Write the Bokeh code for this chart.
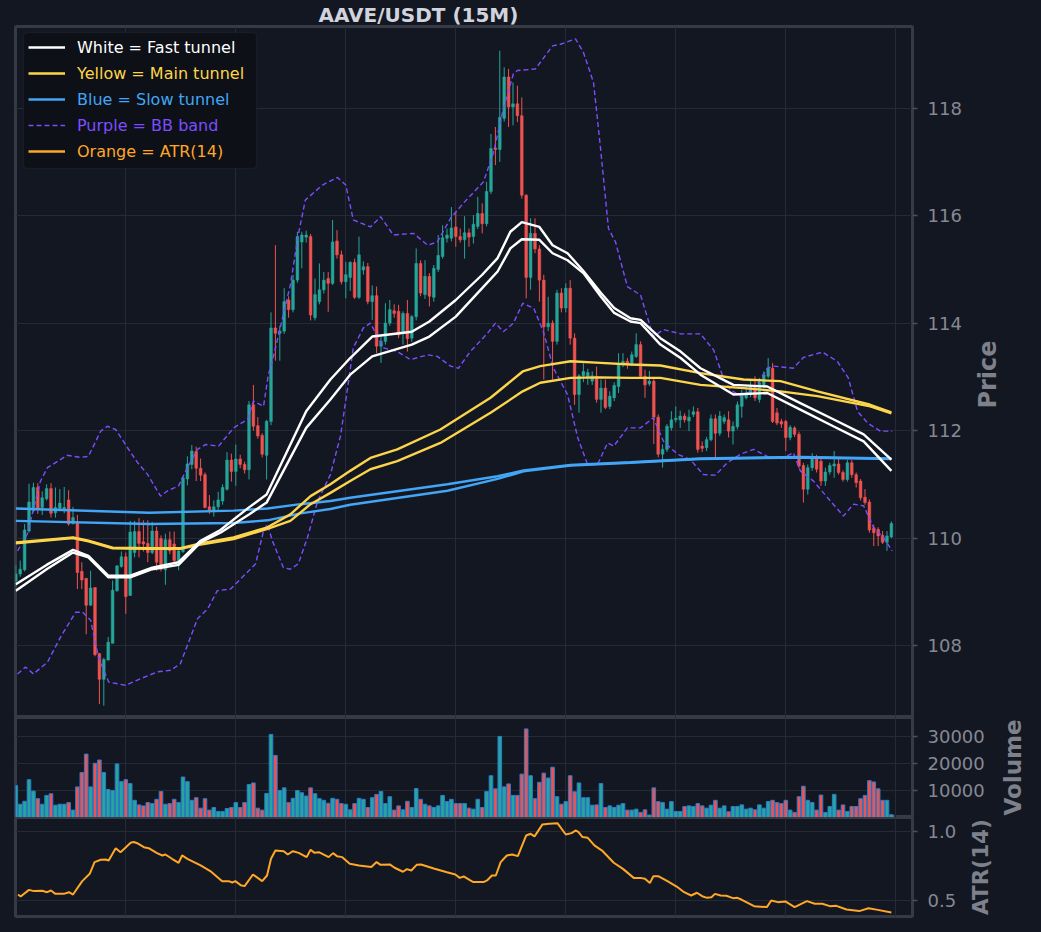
import math
from bokeh.plotting import figure
from bokeh.layouts import column, row
from bokeh.models import (Range1d, FixedTicker, Grid, Label, Legend, LegendItem,
                          ColumnDataSource, BoxAnnotation)
from bokeh.embed import file_html
from bokeh.resources import INLINE

# ---------------- data ----------------
opens = [109.20,109.33,109.41,110.13,110.51,110.94,110.57,110.73,110.92,110.47,
         110.55,110.51,110.71,110.27,110.30,109.38,109.25,108.75,109.08,107.85,
         107.37,107.73,108.04,109.02,109.47,109.65,108.93,109.73,110.12,109.93,
         109.90,109.73,110.13,109.99,109.41,109.97,109.89,109.53,109.75,111.10,
         111.37,111.61,111.30,111.18,110.58,110.50,110.58,110.69,110.91,111.45,
         111.24,111.47,111.37,111.27,112.48,112.09,111.91,111.54,112.17,113.91,
         113.81,113.85,114.43,114.25,114.80,115.51,115.60,115.61,114.10,114.40,
         114.62,114.83,114.74,115.53,115.27,114.77,114.85,115.13,114.48,114.99,
         115.05,114.40,114.51,113.57,113.66,114.00,114.23,114.22,113.84,114.18,
         113.72,114.12,115.11,114.53,114.87,114.48,115.00,115.24,115.58,115.58,
         115.79,115.61,115.55,115.68,115.61,115.80,116.04,115.85,116.45,117.26,
         117.23,117.81,118.58,118.02,118.08,117.86,116.38,114.85,115.67,115.38,
         114.80,113.93,114.00,113.66,114.56,114.28,114.65,113.72,112.67,113.02,
         113.00,112.92,113.01,112.58,112.79,112.45,112.61,112.82,113.23,113.29,
         113.23,113.38,113.60,113.01,112.87,112.92,112.25,111.56,111.65,112.05,
         112.20,112.20,112.27,112.18,112.30,112.35,111.71,111.68,111.83,112.22,
         111.95,112.17,112.20,111.99,112.07,112.45,112.61,112.67,112.82,112.58,
         112.85,113.01,113.16,112.33,112.17,112.17,111.87,112.05,111.93,111.35,
         110.91,111.31,111.49,111.43,111.06,111.23,111.34,111.38,111.22,111.09,
         111.40,111.18,111.06,110.76,110.67,110.19,110.16,110.05,109.92,110.02]
highs = [109.50,109.58,110.26,111.01,111.03,111.02,110.87,111.00,111.02,110.94,
         110.91,110.95,110.89,110.58,110.43,109.55,109.25,109.39,109.08,107.85,
         107.77,108.16,109.21,109.50,109.75,109.73,110.32,110.32,110.37,110.33,
         110.33,110.30,110.21,110.05,110.08,110.12,110.12,109.80,111.15,111.52,
         111.73,111.70,111.48,111.22,110.80,110.70,110.86,111.00,111.60,111.57,
         111.74,111.55,111.42,112.55,112.85,112.25,111.95,112.20,114.20,115.45,
         113.95,114.65,114.50,114.90,115.70,115.70,115.72,115.66,114.83,115.11,
         114.95,114.95,115.92,115.73,115.35,115.14,115.15,115.20,115.61,115.15,
         115.12,114.70,114.68,113.75,114.37,114.43,114.35,114.34,114.22,114.43,
         114.15,115.39,115.17,115.17,114.93,115.08,115.64,115.82,115.76,116.16,
         116.07,115.76,115.99,115.76,116.01,116.35,116.23,116.63,117.52,117.65,
         119.07,118.76,118.73,118.48,118.42,118.20,116.40,115.95,115.95,115.45,
         114.90,114.49,114.05,114.62,114.65,114.74,114.80,113.81,113.05,113.25,
         113.15,113.10,113.19,112.95,112.95,112.73,112.90,113.44,113.44,113.35,
         113.47,113.81,113.66,113.13,113.11,113.00,112.30,111.74,112.12,112.36,
         112.45,112.37,112.32,112.39,112.45,112.42,111.80,111.88,112.30,112.30,
         112.36,112.30,112.36,112.17,112.54,112.76,112.82,112.92,113.01,112.98,
         113.10,113.35,113.26,112.42,112.22,112.20,112.10,112.08,111.98,111.40,
         111.37,111.58,111.55,111.48,111.31,111.40,111.62,111.49,111.26,111.45,
         111.45,111.22,111.10,110.91,110.72,110.25,110.20,110.13,110.13,110.31]
lows = [109.10,109.28,109.38,110.10,110.48,110.45,110.43,110.70,110.38,110.38,
        110.50,110.46,110.23,110.25,109.05,109.05,108.21,108.74,107.80,106.91,
        106.88,107.72,108.04,109.00,109.45,108.59,108.93,109.64,109.64,109.75,
        109.55,109.70,109.39,109.38,109.13,109.70,109.55,109.40,109.72,110.98,
        111.28,111.06,111.06,110.55,110.45,110.40,110.52,110.62,110.88,111.05,
        110.97,111.30,111.20,111.09,112.00,111.85,111.50,111.09,112.10,113.30,
        113.30,113.80,114.10,114.20,114.75,115.02,115.50,114.05,114.05,114.35,
        114.55,114.21,114.71,115.20,114.72,114.46,114.60,114.45,114.45,114.90,
        114.35,114.06,113.44,113.26,113.60,113.95,114.10,113.72,113.60,113.47,
        113.65,114.05,114.50,114.45,114.31,114.40,114.95,115.20,115.50,115.52,
        115.42,115.50,115.20,115.42,115.48,115.75,115.67,115.80,116.40,116.94,
        117.00,117.75,117.65,117.68,117.74,116.32,114.46,114.62,115.30,114.40,
        112.95,113.85,112.95,113.60,114.20,114.20,113.60,112.48,112.33,112.90,
        112.85,112.85,112.52,112.33,112.40,112.40,112.55,112.70,113.18,113.15,
        113.20,113.35,112.98,112.61,112.83,111.75,111.50,111.31,111.60,112.00,
        112.15,112.05,112.15,111.99,112.25,111.59,111.60,111.62,111.80,111.49,
        111.90,112.12,111.87,111.74,112.02,112.24,112.58,112.62,112.55,112.52,
        112.80,112.97,112.14,112.10,112.05,111.62,111.82,111.88,111.30,110.66,
        110.81,111.25,111.22,110.97,110.97,111.18,111.12,111.18,111.05,111.05,
        111.12,110.94,110.70,110.62,110.10,109.85,109.85,109.89,109.76,110.00]
closes = [109.33,109.42,110.15,110.67,110.94,110.55,110.75,110.92,110.46,110.57,
          110.65,110.57,110.26,110.38,109.36,109.22,108.75,109.07,107.83,107.37,
          107.74,108.06,109.03,109.48,109.65,108.91,110.11,110.12,109.90,109.89,
          109.73,110.13,109.55,109.42,109.97,109.76,109.58,109.76,111.12,111.38,
          111.62,111.30,111.17,110.57,110.50,110.58,110.71,110.94,111.45,111.24,
          111.47,111.37,111.27,112.48,112.08,111.90,111.56,112.17,113.91,113.81,
          113.85,114.40,114.25,114.80,115.61,115.64,115.64,114.15,114.53,114.62,
          114.80,114.74,115.51,115.27,114.77,114.90,115.13,114.48,115.27,115.05,
          114.40,114.51,113.57,113.66,114.00,114.25,114.18,113.78,114.18,113.71,
          114.12,115.11,114.56,114.87,114.50,115.02,115.26,115.59,115.64,115.77,
          115.61,115.55,115.68,115.60,115.84,116.04,115.85,116.45,117.25,117.23,
          117.83,118.58,118.02,118.08,117.86,116.38,114.85,115.67,115.38,114.80,
          113.93,114.00,113.66,114.56,114.28,114.65,113.72,112.67,113.02,113.10,
          113.08,113.02,112.58,112.79,112.43,112.64,112.84,113.23,113.29,113.23,
          113.41,113.60,113.01,112.85,112.92,112.25,111.56,111.65,112.08,112.20,
          112.23,112.27,112.20,112.25,112.35,111.65,111.67,111.83,112.22,111.95,
          112.27,112.24,111.99,112.08,112.48,112.64,112.70,112.82,112.61,112.89,
          113.04,113.16,112.17,112.14,112.12,111.87,112.06,111.93,111.34,110.91,
          111.31,111.49,111.28,111.06,111.23,111.35,111.38,111.22,111.09,111.40,
          111.18,111.03,110.75,110.66,110.15,110.10,110.04,109.92,110.04,110.27]
volumes = [11800,4900,6000,14000,9760,6970,4900,8180,8790,4550,
           4900,4900,5520,2730,11330,16670,23450,11330,20060,21270,
           16670,10360,10000,19820,13270,14000,12550,6360,4670,4300,
           5520,5150,6730,9640,4900,5150,6730,5520,14970,13270,
           6360,7330,3450,6970,2730,3700,2240,2240,3330,3700,
           5520,3700,5520,12180,12790,3450,2730,8910,30730,22970,
           10000,10970,5520,7090,10000,9150,7940,10970,8790,6970,
           6360,5270,7090,6730,5150,4900,2850,5150,7090,6730,
           3700,7330,8550,9640,5150,7700,2730,4300,2850,6000,
           3700,10730,6730,4900,4300,3700,4300,8180,5880,6730,
           5150,5150,5150,3450,3090,6730,3700,9640,15450,10610,
           30000,11330,12420,8180,8180,16060,32790,15450,6970,13030,
           16420,14610,18610,7700,4910,5880,15450,9520,12790,7330,
           7330,4550,4670,12550,3700,4300,3700,4550,5150,2730,
           2730,3090,1880,2850,910,10970,5880,5520,3090,5880,
           2240,2240,4060,4300,4060,5150,4300,3450,4550,6360,
           3450,4300,2120,4060,4060,4670,3090,3450,2850,4670,
           3450,5880,6360,5520,5150,6360,2730,1880,7700,11580,
           6360,5520,2730,8300,1880,4060,8550,2730,4670,2240,
           4060,4060,6970,8180,13640,13150,10610,6360,6360,1030]

# tunnel lines: (bar index, price) read at the visible vertices
fast_up_idx = [0,7,13,16.5,21,26,31,37,42,46.5,53,57,66,71.5,76,81,90,94,100,106,109.5,112.4,115,119,122,125.4,129,133,136,139.7,142,146.5,151.1,155.6,163.1,170.8,178.3,185.8,192.7,199]
fast_up_val = [109.14,109.50,109.78,109.67,109.30,109.30,109.45,109.55,109.95,110.15,110.57,110.81,112.36,112.95,113.35,113.75,113.84,114.03,114.43,114.90,115.21,115.70,115.88,115.79,115.45,115.30,114.97,114.56,114.28,114.09,114.06,113.72,113.47,113.16,112.85,112.82,112.51,112.21,111.93,111.46]
fast_lo_idx = [0,7,13,16.5,21,26,31,37,42,46.5,53,57,66,71.5,76,81,90,94,100,106,109.5,112.4,115,119,122,125.4,129,133,136,139.7,142,146.5,151.1,155.6,163.1,170.8,178.3,185.8,192.7,199]
fast_lo_val = [109.02,109.42,109.73,109.64,109.27,109.27,109.42,109.50,109.92,110.10,110.44,110.66,112.05,112.58,113.04,113.38,113.60,113.75,114.12,114.65,114.96,115.39,115.56,115.55,115.30,115.17,114.93,114.49,114.19,114.03,114.00,113.60,113.35,113.04,112.67,112.70,112.39,112.08,111.80,111.25]
main_up_idx = [0,13,16.5,22,30.6,37.4,42,49.5,57.2,62.4,67,71.5,76,80.6,86.7,96.5,107.9,115.2,119.2,126.1,132.9,139.7,146.5,155.6,165.4,173.8,182.2,194.2,199]
main_up_val = [109.92,110.01,109.95,109.82,109.81,109.81,109.90,110.01,110.20,110.44,110.78,111.00,111.25,111.49,111.65,112.02,112.61,113.10,113.20,113.29,113.26,113.23,113.21,113.07,112.95,112.92,112.73,112.48,112.34]
main_lo_idx = [0,13,16.5,22,30.6,37.4,42,49.5,57.2,62.4,67,71.5,76,80.6,86.7,96.5,107.9,115.2,119.2,126.1,132.9,139.7,146.5,155.6,165.4,173.8,182.2,194.2,199]
main_lo_val = [109.90,110.00,109.94,109.81,109.80,109.80,109.88,109.98,110.17,110.32,110.63,110.84,111.06,111.28,111.43,111.77,112.33,112.73,112.89,112.98,112.99,112.98,112.98,112.85,112.79,112.73,112.64,112.45,112.32]
slow_up_idx = [0,30.3,49.5,57.2,64.7,71.5,76,98.1,109.5,115.4,126.1,139.7,155.6,178.3,199]
slow_up_val = [110.55,110.47,110.51,110.55,110.63,110.69,110.75,111.00,111.15,111.26,111.36,111.41,111.48,111.51,111.48]
slow_lo_idx = [0,30.3,49.5,57.2,64.7,71.5,76,98.1,109.5,115.4,126.1,139.7,155.6,178.3,199]
slow_lo_val = [110.32,110.26,110.28,110.33,110.46,110.54,110.62,110.88,111.10,111.24,111.35,111.40,111.47,111.50,111.47]

# Bollinger band edges (bar index, price)
bb_up_idx = [0.4,2.6,5.6,7.2,11.7,14.7,16.5,19.3,20.8,22.7,25.4,27.7,29.9,32.9,34.5,37,39,41.3,43.1,46.1,49.5,52.7,54,56.3,57.4,58.3,62.4,64.2,65.8,69.7,73.1,75,76.7,80.6,82.9,85.8,90.4,93.6,95.8,98.8,101.7,106.3,108.6,110.8,113.1,114,118.1,122,123.8,127.2,129,131.3,132.9,134.7,136.3,139,142,144.9,147.2,151.1,155.6,158.6,160.8,162.4,164.7,167.7,170.8,172.2,176.7,179,183.3,186.7,189.2,191.3,193.6,196.5,199.2]
bb_up_val = [109.76,110.07,111.06,111.31,111.54,111.50,111.52,111.99,112.08,112.02,111.68,111.40,111.19,110.78,110.88,110.97,111.31,111.65,111.74,111.71,112.05,112.21,112.55,112.45,113.04,113.29,114.71,115.64,116.29,116.57,116.71,116.57,115.92,115.79,115.98,115.64,115.67,115.45,115.51,115.95,116.23,116.63,117.18,117.99,118.64,118.70,118.73,119.16,119.19,119.29,119.04,118.48,117.25,115.76,115.51,114.68,114.52,113.75,113.88,113.80,113.80,113.50,112.98,112.76,112.64,112.76,113.16,113.20,113.16,113.36,113.46,113.29,112.98,112.36,112.14,111.99,111.99]
bb_lo_idx = [0.4,2.2,4,7.2,10.2,13.6,15.2,17,18.8,21.1,24.9,28.3,32.2,35.2,37.4,41.3,43.6,45.8,48.8,51.1,54.5,56.3,57.2,58.3,60.8,62.4,64.2,66.3,68.6,71.5,73.8,75.4,76.7,79,80.6,83.6,86.7,89.7,93.6,95.8,98.8,100.6,103.3,107.2,109,110.8,113.1,115.2,117.7,119.9,122.2,125.4,127.7,129.9,132.2,134.5,135.9,139,142,144.9,147.2,150.4,153.3,156.3,159,161.7,164.7,167.7,171.5,174.2,176.7,178.3,181.3,184.5,188.1,190.4,192.7,195,197.2,199.2]
bb_lo_val = [107.47,107.60,107.47,107.69,108.16,108.62,108.62,108.47,107.78,107.32,107.26,107.38,107.51,107.54,107.66,108.50,108.68,109.02,109.05,109.24,109.52,110.13,110.26,109.95,109.45,109.42,109.52,110.01,110.69,111.18,111.90,112.79,113.54,113.91,114.00,113.54,113.47,113.32,113.41,113.38,113.20,113.16,113.47,113.81,114.00,113.84,114.00,114.37,114.28,113.84,113.16,112.67,111.87,111.38,111.37,111.77,111.71,112.05,112.05,112.24,111.80,111.56,111.46,111.18,111.17,111.40,111.56,111.65,111.49,111.48,111.59,111.25,111.06,110.75,110.41,110.63,110.60,110.19,110.01,109.76]

# ATR(14) (bar index, value)
atr_idx = [0.5,1.1,3.0,4.1,6.0,7.1,8.0,9.0,10.9,12.1,13.0,15.1,16.8,17.9,19.3,20.4,21.1,22.7,23.8,24.9,
           26.1,26.8,27.6,29.1,30.2,32.1,33.3,34.0,35.5,37.0,37.8,39.0,42.0,44.2,46.9,48.4,49.2,49.9,51.1,52.0,
           53.9,56.0,57.1,58.0,59.0,60.9,61.8,63.0,64.3,66.1,67.0,67.9,68.9,71.1,72.1,73.0,74.2,75.9,78.0,80.8,
           82.0,82.9,85.0,86.1,88.0,88.9,89.9,91.1,92.1,95.0,98.0,99.9,100.9,101.8,103.3,104.0,106.3,107.1,108.2,109.1,
           110.2,111.6,112.8,114.1,116.0,117.0,117.9,119.7,121.2,123.1,125.0,126.3,127.3,127.9,128.8,130.0,131.5,133.4,135.9,138.0,
           140.5,142.2,143.0,144.1,144.9,146.0,148.1,150.2,151.9,153.5,154.8,156.0,157.1,158.1,158.9,160.2,161.5,163.0,164.0,164.9,
           167.8,170.7,171.7,173.2,174.9,177.0,179.8,181.6,183.3,185.0,186.5,188.8,191.7,193.8,195.9,199.0]
atr_val = [0.543,0.529,0.577,0.568,0.570,0.560,0.572,0.548,0.548,0.560,0.543,0.640,0.693,0.778,0.795,0.797,0.790,0.879,0.850,0.882,
           0.918,0.923,0.915,0.886,0.879,0.843,0.826,0.833,0.802,0.773,0.826,0.802,0.754,0.713,0.640,0.640,0.630,0.640,0.611,0.604,
           0.688,0.640,0.681,0.802,0.862,0.857,0.833,0.857,0.845,0.814,0.867,0.845,0.850,0.814,0.843,0.821,0.814,0.766,0.754,0.742,
           0.778,0.758,0.761,0.737,0.708,0.727,0.717,0.758,0.761,0.732,0.705,0.688,0.664,0.674,0.645,0.633,0.633,0.645,0.681,0.681,
           0.778,0.826,0.833,0.821,0.971,0.983,0.964,1.051,1.056,1.060,0.978,0.988,1.007,0.995,0.959,0.954,0.899,0.857,0.773,0.729,
           0.662,0.662,0.657,0.626,0.676,0.676,0.640,0.601,0.560,0.536,0.556,0.531,0.519,0.524,0.548,0.536,0.534,0.517,0.519,0.507,
           0.459,0.452,0.500,0.488,0.493,0.452,0.495,0.476,0.476,0.459,0.461,0.435,0.423,0.444,0.432,0.413]

price_ticks = [108, 110, 112, 114, 116, 118]
volume_ticks = [10000, 20000, 30000]
atr_ticks = [0.5, 1.0]

title_text = "AAVE/USDT (15M)"
legend_labels = ["White = Fast tunnel", "Yellow = Main tunnel", "Blue = Slow tunnel",
                 "Purple = BB band", "Orange = ATR(14)"]

# ---------------- styling / layout ----------------
BG = "#131722"
FRAME_COL = "#363a45"
GRID_COL = "#262a35"
TICK_TXT = "#868993"
AXLBL = "#7e818b"
GREEN = "#26a69a"
RED = "#ef5350"
WHITE = "#ffffff"
YELLOW = "#fdd54b"
BLUE = "#42a5f5"
PURPLE = "#7c4dff"
ORANGE = "#ffa726"
VOL_EDGE = "#2b7bd0"
FONT = "DejaVu Sans"

LEFT = 15
FRAME_W = 897
X_RANGE = (-0.07, 203.8)
DARK = {"background-color": BG}


def make_panel(width, height, y_range, top, bottom, ticks, labels, title=None):
    kw = {}
    if title is not None:
        kw["title"] = title
    f = figure(width=width, height=height, output_backend="svg", toolbar_location=None,
               x_range=Range1d(*X_RANGE), y_range=Range1d(*y_range),
               x_axis_location=None, y_axis_location="right",
               min_border_left=LEFT, min_border_right=width - LEFT - FRAME_W,
               min_border_top=top, min_border_bottom=bottom, **kw)
    f.styles = DARK
    f.background_fill_color = BG
    f.border_fill_color = BG
    f.outline_line_color = FRAME_COL
    f.outline_line_width = 3
    a = f.yaxis[0]
    a.ticker = FixedTicker(ticks=ticks)
    a.major_label_overrides = {t: s for t, s in zip(ticks, labels)}
    a.minor_tick_line_color = None
    a.major_tick_in = 0
    a.major_tick_out = 5
    a.major_tick_line_color = "#4b505c"
    a.major_tick_line_width = 1.5
    a.axis_line_color = None
    a.major_label_standoff = 10
    a.major_label_text_font = FONT
    a.major_label_text_font_size = "18px"
    a.major_label_text_color = TICK_TXT
    f.ygrid.grid_line_color = GRID_COL
    f.ygrid.grid_line_width = 1
    f.xgrid.visible = False
    f.add_layout(Grid(dimension=0, ticker=FixedTicker(ticks=[25, 50, 75, 100, 125, 150, 175, 200]),
                      grid_line_color=GRID_COL, grid_line_width=1))
    return f


def make_label_fig(width, height, top, bottom, text, size, cx, cy_from_frame_top):
    """narrow strip right of a panel carrying its rotated axis title"""
    f = figure(width=width, height=height, output_backend="svg", toolbar_location=None,
               x_axis_location=None, y_axis_location=None,
               min_border_left=0, min_border_right=0, min_border_top=top,
               min_border_bottom=bottom)
    f.styles = DARK
    f.background_fill_color = BG
    f.border_fill_color = BG
    f.outline_line_color = BG
    f.outline_line_width = 3
    f.xgrid.visible = False
    f.ygrid.visible = False
    frame_h = height - top - bottom
    f.add_layout(Label(x=cx, y=frame_h - cy_from_frame_top, x_units="screen", y_units="screen",
                       text=text, angle=math.pi / 2, text_color=AXLBL, text_font=FONT,
                       text_font_style="bold", text_font_size=size,
                       text_align="center", text_baseline="middle"))
    return f


n = len(closes)
idx = list(range(n))
inc = [c >= o for o, c in zip(opens, closes)]
cols = [GREEN if u else RED for u in inc]
src = ColumnDataSource(dict(x=idx, o=opens, h=highs, l=lows, c=closes,
                            top=[max(o, c) for o, c in zip(opens, closes)],
                            bot=[min(o, c) for o, c in zip(opens, closes)],
                            col=cols, vol=volumes))

# ---------------- price panel ----------------
PW = 972
pp = make_panel(PW, 717, (106.66, 119.52), 24, 0, price_ticks, [str(t) for t in price_ticks],
                title=title_text)
pp.title.text_font = FONT
pp.title.text_font_size = "20px"
pp.title.text_font_style = "bold"
pp.title.text_color = "#d1d4dc"
pp.title.align = "left"
pp.title.offset = 303
pp.title.standoff = 0

pp.segment(x0="x", y0="l", x1="x", y1="h", source=src, line_color="col", line_width=1)
pp.vbar(x="x", top="top", bottom="bot", width=0.62, source=src, fill_color="col",
        line_color="col", line_width=0.5)

r_bbu = pp.line(bb_up_idx, bb_up_val, line_color=PURPLE, line_width=1.4, line_dash="5 3")
pp.line(bb_lo_idx, bb_lo_val, line_color=PURPLE, line_width=1.4, line_dash="5 3")
r_slow = pp.line(slow_up_idx, slow_up_val, line_color=BLUE, line_width=2.4)
pp.line(slow_lo_idx, slow_lo_val, line_color=BLUE, line_width=2.4)
r_main = pp.line(main_up_idx, main_up_val, line_color=YELLOW, line_width=2.4)
pp.line(main_lo_idx, main_lo_val, line_color=YELLOW, line_width=2.4)
r_fast = pp.line(fast_up_idx, fast_up_val, line_color=WHITE, line_width=2.4)
pp.line(fast_lo_idx, fast_lo_val, line_color=WHITE, line_width=2.4)
# ATR series in the price panel only serves as the legend key (its values lie far below the view)
r_atr_key = pp.line(atr_idx, atr_val, line_color=ORANGE, line_width=2.4)

# legend: one box + one single-entry legend per row (each with its own text colour)
box_kw = dict(left=8, right=241, top=693 - 8, bottom=693 - 144,
              left_units="screen", right_units="screen", top_units="screen", bottom_units="screen",
              fill_color="#0d1017", fill_alpha=0.95, line_color="#2e323d", line_width=1.5)
try:
    pp.add_layout(BoxAnnotation(border_radius=4, **box_kw))
except Exception:
    pp.add_layout(BoxAnnotation(**box_kw))

lg_cols = [WHITE, YELLOW, BLUE, PURPLE, ORANGE]
for k, (lab, col, r) in enumerate(zip(legend_labels, lg_cols,
                                      [r_fast, r_main, r_slow, r_bbu, r_atr_key])):
    lg = Legend(items=[LegendItem(label=lab, renderers=[r])], location=(13, 660 - 26 * k),
                margin=0, padding=0, spacing=0, glyph_width=37, glyph_height=20,
                label_height=20, label_standoff=12, label_text_font=FONT,
                label_text_font_size="16px", label_text_color=col,
                background_fill_alpha=0.0, border_line_color=None)
    pp.add_layout(lg)

# label strip: its frame spans y 24..717 (aligned with the price frame)
lp = make_label_fig(1041 - PW, 717, 24, 0, "Price", "24px", 987 - PW, 374 - 24)

# ---------------- volume panel ----------------
VW = 997
pv = make_panel(VW, 100, (0, 37000), 0, 0, volume_ticks, [str(t) for t in volume_ticks])
pv.vbar(x="x", top="vol", bottom=0, width=0.82, source=src, fill_color="col",
        line_color=VOL_EDGE, line_width=1)
lv = make_label_fig(1041 - VW, 100, 0, 0, "Volume", "23px", 1012 - VW, 767 - 717)

# ---------------- ATR panel ----------------
AW = 965
pa = make_panel(AW, 115, (0.384, 1.101), 0, 16, atr_ticks, ["%.1f" % t for t in atr_ticks])
pa.line(atr_idx, atr_val, line_color=ORANGE, line_width=2)
la = make_label_fig(1041 - AW, 115, 0, 16, "ATR(14)", "21.5px", 980 - AW, 866.5 - 817)

r1 = row(pp, lp, spacing=0)
r2 = row(pv, lv, spacing=0)
r3 = row(pa, la, spacing=0)
for r in (r1, r2, r3):
    r.styles = DARK
layout = column(r1, r2, r3, spacing=0)
layout.styles = DARK

html = file_html(layout, INLINE)
html = html.replace("</head>", "<style>html, body { background-color: #131722; }</style></head>", 1)
open("out.html", "w").write(html)
